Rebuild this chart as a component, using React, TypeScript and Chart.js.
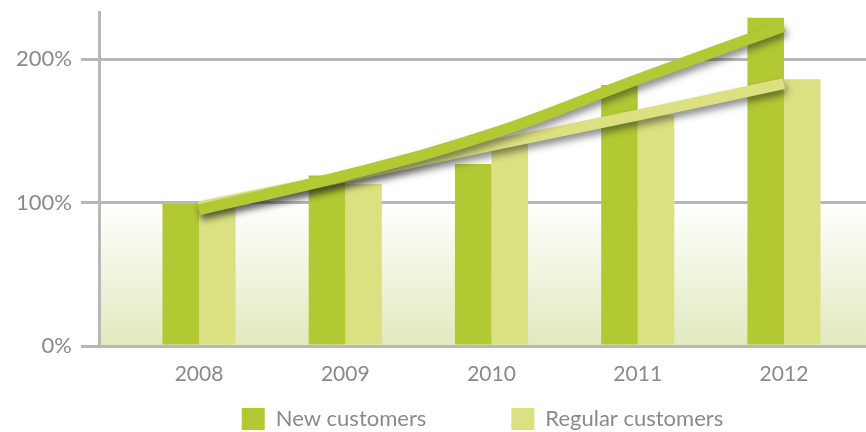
import React, { useEffect, useRef } from 'react';
import { Chart, registerables } from 'chart.js';

Chart.register(...registerables);

// ---- data ----
const years = [2008, 2009, 2010, 2011, 2012];
const newCustomers = [99, 119, 127, 182, 229];
const regularCustomers = [99, 113, 141, 161, 186];
const newTrend = [95, 119, 148, 186, 223];
const regularTrend = [97, 118, 140, 161, 183];
const yTicks = [0, 100, 200];
const seriesNames = ['New customers', 'Regular customers'];
const gradientFrom = 100;

// ---- style ----
const DARK = '#b2c934';
const LIGHT = '#dbe080';
const TEXT = '#8a8a8a';
const GRID = '#b8b8b8';
const FONT = 'Lato, "DejaVu Sans", sans-serif';
const LEGEND_GAP = '           ';

const toXY = (vals: number[]) => years.map((x, i) => ({ x, y: vals[i] }));

const bgPlugin = {
  id: 'bgGradient',
  beforeDraw(chart: any) {
    const { ctx, chartArea, scales } = chart;
    const top = scales.y.getPixelForValue(gradientFrom);
    const g = ctx.createLinearGradient(0, top, 0, chartArea.bottom);
    g.addColorStop(0, '#ffffff');
    g.addColorStop(1, '#e2e9be');
    ctx.save();
    ctx.fillStyle = g;
    ctx.fillRect(chartArea.left, top, chartArea.right - chartArea.left, chartArea.bottom - top);
    ctx.restore();
  },
};

const shadowPlugin = {
  id: 'lineShadow',
  beforeDatasetDraw(chart: any, args: any) {
    if (args.meta.type === 'line') {
      const ctx = chart.ctx;
      ctx.save();
      ctx.shadowColor = 'rgba(30,30,30,0.5)';
      ctx.shadowBlur = 7;
      ctx.shadowOffsetX = 2;
      ctx.shadowOffsetY = 5;
    }
  },
  afterDatasetDraw(chart: any, args: any) {
    if (args.meta.type === 'line') chart.ctx.restore();
  },
};

export default function App() {
  const ref = useRef<HTMLCanvasElement>(null);

  useEffect(() => {
    if (!ref.current) return;
    const chart = new Chart(ref.current, {
      type: 'bar',
      data: {
        datasets: [
          {
            type: 'bar',
            label: seriesNames[0],
            data: toXY(newCustomers),
            backgroundColor: DARK,
            borderWidth: 0,
            categoryPercentage: 0.5,
            barPercentage: 1,
            order: 2,
          },
          {
            type: 'bar',
            label: seriesNames[1],
            data: toXY(regularCustomers),
            backgroundColor: LIGHT,
            borderWidth: 0,
            categoryPercentage: 0.5,
            barPercentage: 1,
            order: 3,
          },
          {
            type: 'line',
            label: seriesNames[0] + ' trend',
            data: toXY(newTrend),
            borderColor: DARK,
            borderWidth: 11,
            borderCapStyle: 'butt',
            pointRadius: 0,
            tension: 0.4,
            fill: false,
            order: 0,
          },
          {
            type: 'line',
            label: seriesNames[1] + ' trend',
            data: toXY(regularTrend),
            borderColor: LIGHT,
            borderWidth: 11,
            borderCapStyle: 'butt',
            pointRadius: 0,
            tension: 0,
            fill: false,
            order: 1,
          },
        ] as any,
      },
      options: {
        animation: false,
        responsive: true,
        maintainAspectRatio: false,
        layout: { padding: { left: 0, right: 0, top: 12, bottom: 0 } },
        plugins: {
          tooltip: { enabled: false },
          legend: {
            position: 'bottom',
            fullSize: false,
            labels: {
              boxWidth: 23,
              boxHeight: 22,
              padding: 23,
              color: TEXT,
              font: { family: FONT, size: 22 },
              filter: (item: any) => item.datasetIndex < 2,
              generateLabels: (chart: any) => {
                const items = Chart.defaults.plugins.legend.labels.generateLabels(chart);
                return items.map((it: any) => ({
                  ...it,
                  text: it.datasetIndex === 0 ? it.text + LEGEND_GAP : it.text,
                  lineWidth: 0,
                  strokeStyle: 'transparent',
                }));
              },
            },
          },
        },
        scales: {
          x: {
            type: 'linear',
            min: 2007.316,
            max: 2012.561,
            offset: false,
            grid: { display: false, drawTicks: false },
            border: { display: false },
            afterBuildTicks: (scale: any) => {
              scale.ticks = years.map((v) => ({ value: v }));
            },
            afterFit: (scale: any) => {
              scale.height = 39;
            },
            ticks: {
              autoSkip: false,
              padding: 16,
              color: TEXT,
              font: { family: FONT, size: 21 },
              callback: (v: any) => String(v),
            },
          },
          y: {
            min: 0,
            max: 233,
            grid: { color: GRID, lineWidth: 3, tickLength: 18, drawTicks: true },
            border: { display: true, color: GRID, width: 3 },
            afterBuildTicks: (scale: any) => {
              scale.ticks = yTicks.map((v) => ({ value: v }));
            },
            afterFit: (scale: any) => {
              scale.width = 99;
              scale.paddingTop = 0;
              scale.paddingBottom = 0;
            },
            ticks: {
              padding: 9,
              color: TEXT,
              font: { family: FONT, size: 22 },
              callback: (v: any) => v + '%',
            },
          },
        },
      } as any,
      plugins: [bgPlugin, shadowPlugin],
    });
    return () => chart.destroy();
  }, []);

  return (
    <div style={{ position: 'absolute', left: 0, top: 0, width: 866, height: 432, overflow: 'hidden', background: '#fff' }}>
      <div style={{ position: 'relative', width: 866, height: 440 }}>
        <canvas ref={ref} />
      </div>
    </div>
  );
}
